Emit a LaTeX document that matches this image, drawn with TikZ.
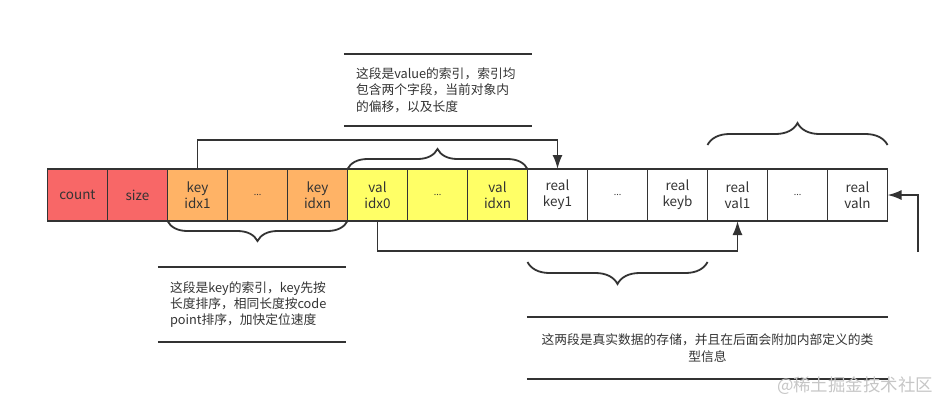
\documentclass[tikz,border=0pt]{standalone}
\usepackage{fontspec}
\setmainfont{Noto Sans CJK SC}
\usepackage{xcolor}
\usepackage{tikz}
\usetikzlibrary{arrows.meta, positioning, calc, decorations.pathreplacing}

\definecolor{cellred}{HTML}{F86767}
\definecolor{cellorange}{HTML}{FFB366}
\definecolor{cellyellow}{HTML}{FFFF66}
\definecolor{linegray}{HTML}{333333}

\begin{document}
\begin{tikzpicture}[
    x=1bp, y=-1bp,
    % Define styles for the cells
    base_cell/.style={rectangle, draw=linegray, line width=1.8bp, outer sep=0pt, inner sep=0pt, minimum width=60bp, minimum height=52bp, align=center, text=linegray, font=\fontsize{13.5}{16}\selectfont},
    head_cell/.style={base_cell, fill=cellred},
    key_cell/.style={base_cell, fill=cellorange},
    val_cell/.style={base_cell, fill=cellyellow},
    data_cell/.style={base_cell, fill=white},
    dots_text/.style={font=\fontsize{9}{10}\selectfont},
    % Styles for the notes
    note_text/.style={rectangle, inner sep=0pt, inner xsep=12bp, text=linegray, font=\fontsize{12.8}{16.5}\selectfont},
    note_rule/.style={draw=linegray, line width=2bp},
    % Styles for arrows and braces
    arrow/.style={-{Latex[length=14bp, width=10bp]}, draw=linegray, line width=1.8bp},
    brace_line/.style={decorate, decoration={brace, amplitude=#1}, draw=linegray, line width=1.8bp},
    brace_line/.default=20bp
]
    \useasboundingbox (0,0) rectangle (950,412);

    % =========================================================================
    % THE ROW OF CELLS
    % =========================================================================
    \node (count) [head_cell] at (77.5,195) {count};
    \node (size) [head_cell, right=0pt of count] {size};

    \node (key_idx1) [key_cell, right=0pt of size] {key\\idx1};
    \node (key_dots) [key_cell, dots_text, right=0pt of key_idx1] {...};
    \node (key_idxn) [key_cell, right=0pt of key_dots] {key\\idxn};

    \node (val_idx0) [val_cell, right=0pt of key_idxn] {val\\idx0};
    \node (val_dots) [val_cell, dots_text, right=0pt of val_idx0] {...};
    \node (val_idxn) [val_cell, right=0pt of val_dots] {val\\idxn};

    \node (real_key1) [data_cell, right=0pt of val_idxn] {real\\key1};
    \node (real_key_dots) [data_cell, dots_text, right=0pt of real_key1] {...};
    \node (real_keyb) [data_cell, right=0pt of real_key_dots] {real\\keyb};

    \node (real_val1) [data_cell, right=0pt of real_keyb] {real\\val1};
    \node (real_val_dots) [data_cell, dots_text, right=0pt of real_val1] {...};
    \node (real_valn) [data_cell, right=0pt of real_val_dots] {real\\valn};

    % =========================================================================
    % ARROWS
    % =========================================================================
    \draw [arrow] (key_idx1.north) -- ++(0,-29) -| (real_key1.north);
    \draw [arrow] (val_idx0.south) -- ++(0,30) -| (real_val1.south);

    \coordinate (valn_feed) at (918,252);
    \draw [arrow] (valn_feed) |- (real_valn.east);

    % =========================================================================
    % BRACES
    % =========================================================================
    \draw [brace_line=20bp, decoration={mirror}] (key_idx1.south west) -- (key_idxn.south east);
    \draw [brace_line=20bp] (val_idx0.north west) -- (val_idxn.north east);
    \draw [brace_line=22bp, decoration={raise=24bp}, xshift=-3bp] (real_val1.north west) -- (real_valn.north east);
    \draw [brace_line=22bp, decoration={mirror, raise=41bp}] (real_key1.south west) -- (real_keyb.south east);

    % =========================================================================
    % NOTES
    % =========================================================================
    \node (val_note) [note_text, text width=164bp, minimum height=72bp, align=left] at (438,90)
        {这段是value的索引，索引均\\包含两个字段，当前对象内\\的偏移，以及长度};
    \draw [note_rule] (val_note.north west) -- (val_note.north east);
    \draw [note_rule] (val_note.south west) -- (val_note.south east);

    \node (key_note) [note_text, text width=164bp, minimum height=75bp, align=left] at (252,304.5)
        {这段是key的索引，key先按\\长度排序，相同长度按code\\point排序，加快定位速度};
    \draw [note_rule] (key_note.north west) -- (key_note.north east);
    \draw [note_rule] (key_note.south west) -- (key_note.south east);

    \node (data_note) [note_text, text width=337bp, minimum height=62bp, align=center] at (707.5,348)
        {这两段是真实数据的存储，并且在后面会附加内部定义的类\\型信息};
    \draw [note_rule] (data_note.north west) -- (data_note.north east);
    \draw [note_rule] (data_note.south west) -- (data_note.south east);

    % Watermark
    \node (watermark) [text=gray!45, font=\fontsize{17.5}{18}\selectfont] at (855,386) {@稀土掘金技术社区};

\end{tikzpicture}
\end{document}
